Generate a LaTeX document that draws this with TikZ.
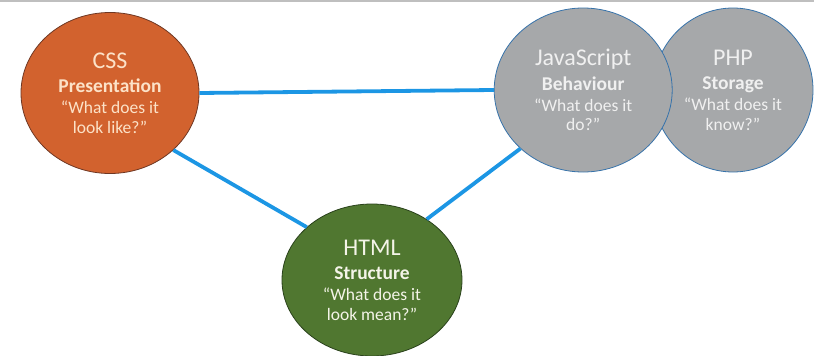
\documentclass[tikz,border=0pt]{standalone}
\usepackage{fontspec}
\setmainfont{Carlito}
\usepackage{tikz}
\usetikzlibrary{shapes.geometric,positioning}

\definecolor{cssorange}{RGB}{210,98,46}
\definecolor{cssline}{RGB}{110,55,35}
\definecolor{cssink}{RGB}{252,226,200}
\definecolor{jsgray}{RGB}{166,168,170}
\definecolor{jsline}{RGB}{55,115,170}
\definecolor{jsink}{RGB}{240,240,240}
\definecolor{htmlgreen}{RGB}{80,119,48}
\definecolor{htmlline}{RGB}{42,66,28}
\definecolor{htmlink}{RGB}{244,244,232}
\definecolor{linkblue}{RGB}{28,150,228}

\newcommand{\langname}[1]{{\fontsize{24}{24}\selectfont #1}}
\newcommand{\rolename}[1]{{\fontsize{19.5}{20}\selectfont\bfseries #1}}

\begin{document}
\begin{tikzpicture}[x=1pt, y=-1pt,
    topic/.style={ellipse, inner sep=0pt, align=center, line width=0.8pt,
                  font=\fontsize{17.5}{19.5}\selectfont},
    css/.style={topic, fill=cssorange, draw=cssline, text=cssink,
                minimum width=178pt, minimum height=161pt},
    js/.style={topic, fill=jsgray, draw=jsline, text=jsink,
                minimum width=178pt, minimum height=164pt},
    php/.style={topic, fill=jsgray, draw=jsline, text=jsink,
                minimum width=160pt, minimum height=164pt},
    html/.style={topic, fill=htmlgreen, draw=htmlline, text=htmlink,
                minimum width=180pt, minimum height=152pt},
    link/.style={draw=linkblue, line width=3.8pt}]

    \useasboundingbox (0,0) rectangle (814,356);
    \draw[black!25, line width=1.5pt] (0,0.75) -- (814,0.75);

    \node[css]  (css)  at (110,93)          {\langname{CSS}\\[5pt] \rolename{Presentation}\\[1.5pt] “What does it\\ look like?”};
    \node[php]  (php)  at (733,90)          {\langname{PHP}\\[5pt] \rolename{Storage}\\[1.5pt] “What does it\\ know?”};
    \node[js]   (js)   [left=-20pt of php]  {\langname{JavaScript}\\[5pt] \rolename{Behaviour}\\[1.5pt] “What does it\\ do?”};
    \node[html] (html) at (372,280)         {\langname{HTML}\\[5pt] \rolename{Structure}\\[1.5pt] “What does it\\ look mean?”};

    \path[link] (css.east) edge (js.west)
                (css.-42)  edge (html.141)
                (js.223)   edge (html.48);
\end{tikzpicture}
\end{document}
